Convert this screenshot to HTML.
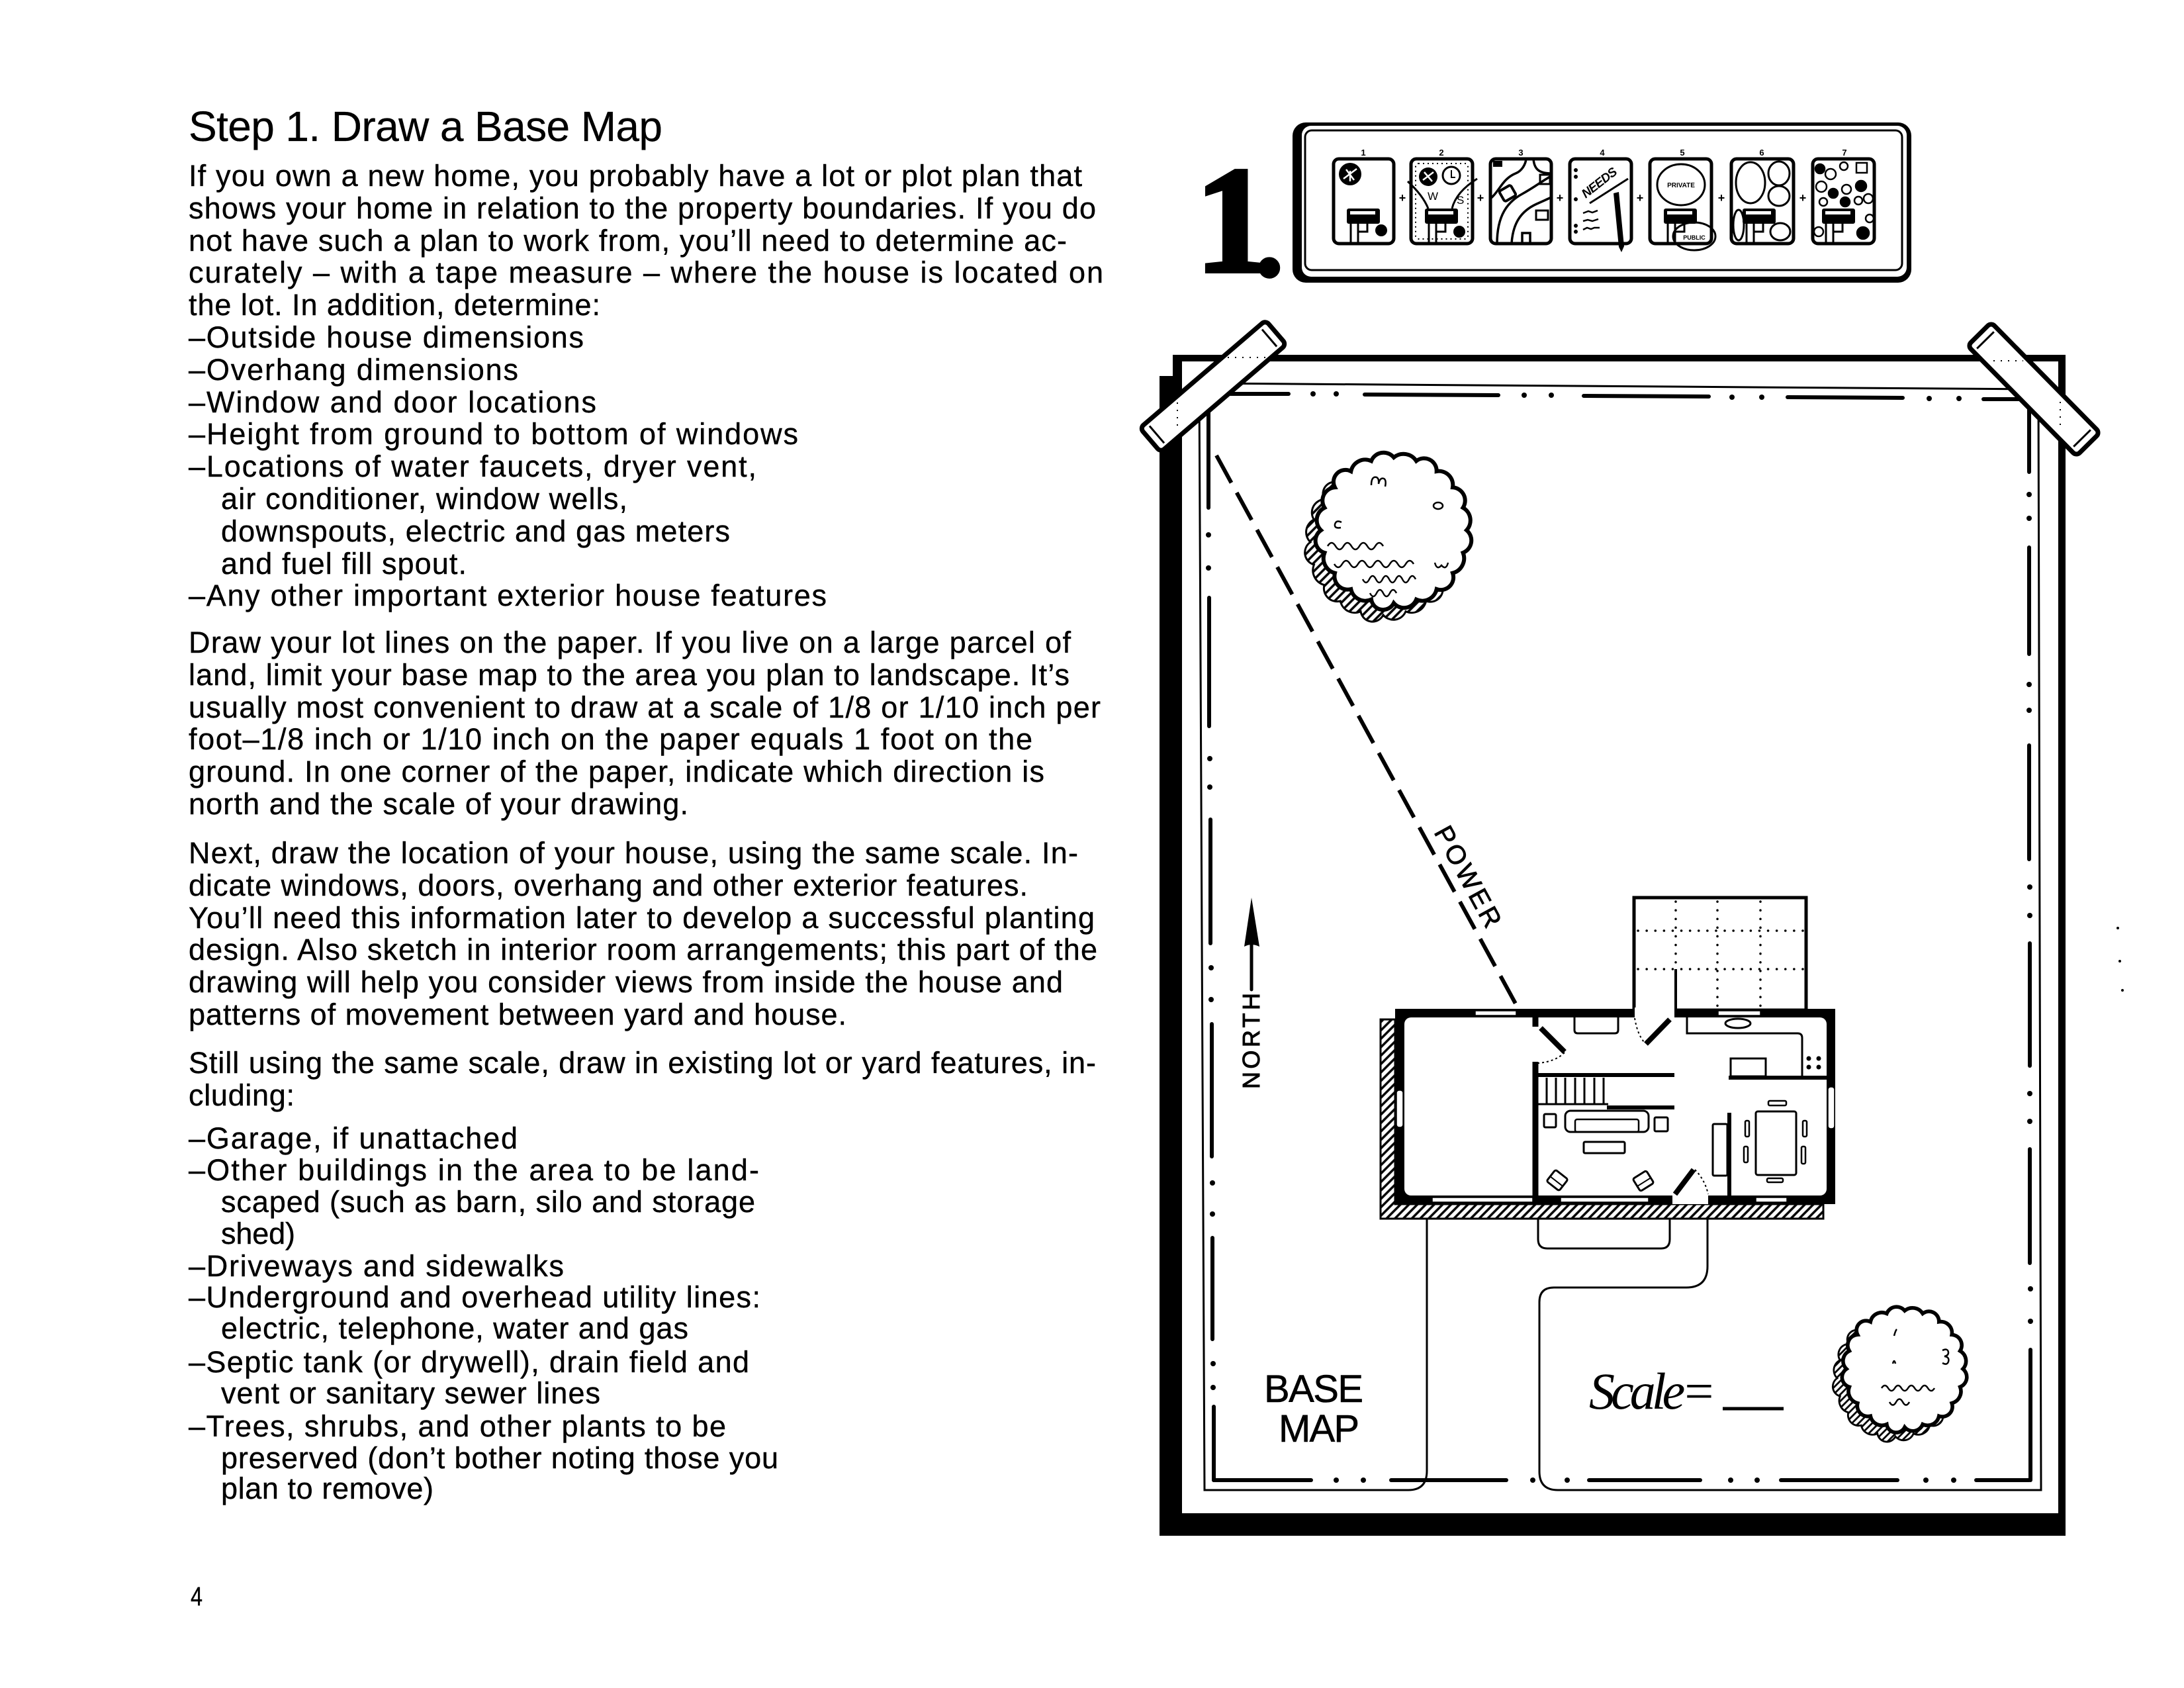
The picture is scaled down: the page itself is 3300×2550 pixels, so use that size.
<!DOCTYPE html>
<html><head><meta charset="utf-8">
<style>
html,body{margin:0;padding:0;background:#fff;}
svg{display:block;}
.t{font-family:"Liberation Sans",Arial,sans-serif;font-size:45px;fill:#000;stroke:#000;stroke-width:0.4;}
.s{stroke:#000;fill:none;}
</style></head>
<body>
<svg width="3300" height="2550" viewBox="0 0 3300 2550">
<defs>
<pattern id="hatch" width="9" height="9" patternUnits="userSpaceOnUse" patternTransform="rotate(45)">
<rect width="9" height="9" fill="#fff"/>
<line x1="2" y1="0" x2="2" y2="9" stroke="#000" stroke-width="3.5"/>
</pattern>
<path id="bump" d="M110 0 A20 20 0 0 1 104.6 34 A23 23 0 0 1 89 64.7 A19 19 0 0 1 64.7 89 A22 22 0 0 1 34 104.6 A20 20 0 0 1 0 110 A18 18 0 0 1 -34 104.6 A22 22 0 0 1 -64.7 89 A20 20 0 0 1 -89 64.7 A23 23 0 0 1 -104.6 34 A19 19 0 0 1 -110 0 A21 21 0 0 1 -104.6 -34 A20 20 0 0 1 -89 -64.7 A18 18 0 0 1 -64.7 -89 A22 22 0 0 1 -34 -104.6 A20 20 0 0 1 0 -110 A23 23 0 0 1 34 -104.6 A19 19 0 0 1 64.7 -89 A21 21 0 0 1 89 -64.7 A20 20 0 0 1 104.6 -34 A22 22 0 0 1 110 0 Z"/>
<g id="ph">
<rect x="2035" y="315" width="50" height="23" rx="3" fill="#000"/>
<rect x="2040" y="319" width="38" height="5" fill="#fff"/>
<path d="M2041 338 V368 M2052 338 V350 H2066 V338 M2052 350 V368" stroke="#000" stroke-width="3" fill="none"/>
</g>
</defs>
<rect width="3300" height="2550" fill="#fff"/>

<!-- ============ LEFT TEXT ============ -->
<g class="t">
<text x="285" y="213" font-size="64" stroke-width="0.3" textLength="716">Step 1. Draw a Base Map</text>
<text x="285" y="281" textLength="1350">If you own a new home, you probably have a lot or plot plan that</text>
<text x="285" y="330" textLength="1371">shows your home in relation to the property boundaries. If you do</text>
<text x="285" y="379" textLength="1327">not have such a plan to work from, you’ll need to determine ac-</text>
<text x="285" y="427" textLength="1382">curately – with a tape measure – where the house is located on</text>
<text x="285" y="476" textLength="622">the lot. In addition, determine:</text>
<text x="285" y="525" textLength="597">–Outside  house  dimensions</text>
<text x="285" y="574" textLength="498">–Overhang  dimensions</text>
<text x="285" y="623" textLength="616">–Window  and  door  locations</text>
<text x="285" y="671" textLength="921">–Height  from  ground  to  bottom  of  windows</text>
<text x="285" y="720" textLength="858">–Locations  of  water  faucets,  dryer  vent,</text>
<text x="334" y="769" textLength="614">air conditioner, window wells,</text>
<text x="334" y="818" textLength="769">downspouts, electric and gas meters</text>
<text x="334" y="867" textLength="371">and fuel fill spout.</text>
<text x="285" y="915" textLength="964">–Any  other  important  exterior  house  features</text>

<text x="285" y="986" textLength="1333">Draw your lot lines on the paper. If you live on a large parcel of</text>
<text x="285" y="1035" textLength="1331">land, limit your base map to the area you plan to landscape. It’s</text>
<text x="285" y="1084" textLength="1378">usually most convenient to draw at a scale of 1/8 or 1/10 inch per</text>
<text x="285" y="1132" textLength="1275">foot–1/8 inch or 1/10 inch on the paper equals 1 foot on the</text>
<text x="285" y="1181" textLength="1293">ground. In one corner of the paper, indicate which direction is</text>
<text x="285" y="1230" textLength="755">north and the scale of your drawing.</text>

<text x="285" y="1304" textLength="1344">Next, draw the location of your house, using the same scale. In-</text>
<text x="285" y="1353" textLength="1268">dicate windows, doors, overhang and other exterior features.</text>
<text x="285" y="1402" textLength="1369">You’ll need this information later to develop a successful planting</text>
<text x="285" y="1450" textLength="1373">design. Also sketch in interior room arrangements; this part of the</text>
<text x="285" y="1499" textLength="1321">drawing will help you consider views from inside the house and</text>
<text x="285" y="1548" textLength="994">patterns of movement between yard and house.</text>

<text x="285" y="1621" textLength="1371">Still using the same scale, draw in existing lot or yard features, in-</text>
<text x="285" y="1670" textLength="160">cluding:</text>
<text x="285" y="1735" textLength="497">–Garage,  if  unattached</text>
<text x="285" y="1783" textLength="862">–Other buildings in the area to be land-</text>
<text x="334" y="1831" textLength="807">scaped (such as barn, silo and storage</text>
<text x="334" y="1879" textLength="112">shed)</text>
<text x="285" y="1928" textLength="567">–Driveways  and  sidewalks</text>
<text x="285" y="1975" textLength="864">–Underground  and  overhead  utility  lines:</text>
<text x="334" y="2022" textLength="706">electric, telephone, water and gas</text>
<text x="285" y="2073" textLength="847">–Septic tank (or drywell), drain field and</text>
<text x="334" y="2120" textLength="573">vent or sanitary sewer lines</text>
<text x="285" y="2170" textLength="812">–Trees, shrubs, and other plants to be</text>
<text x="334" y="2218" textLength="842">preserved (don’t bother noting those you</text>
<text x="334" y="2264" textLength="321">plan to remove)</text>

<text x="288" y="2425" font-size="40" textLength="18" lengthAdjust="spacingAndGlyphs">4</text>
</g>

<!-- ============ BIG "1." ============ -->
<text x="1863" y="410" text-anchor="middle" font-family="Liberation Serif" font-weight="bold" font-size="230" fill="#000" stroke="#000" stroke-width="6">1</text>
<text x="1918" y="418" text-anchor="middle" font-family="Liberation Serif" font-weight="bold" font-size="200" fill="#000">.</text>

<!-- ============ FILMSTRIP ============ -->
<rect x="1953" y="185" width="935" height="242" rx="20" fill="#000"/>
<rect x="1967" y="190" width="914" height="228" rx="14" fill="#fff"/>
<rect x="1972" y="197" width="902" height="211" rx="10" fill="none" stroke="#000" stroke-width="3"/>

<g font-family="Liberation Sans" font-weight="bold" font-size="13" text-anchor="middle" fill="#000">
<text x="2060" y="235">1</text><text x="2178" y="235">2</text><text x="2298" y="235">3</text><text x="2421" y="235">4</text><text x="2542" y="235">5</text><text x="2662" y="235">6</text><text x="2787" y="235">7</text>
<text x="2119" y="305" font-size="18">+</text><text x="2237" y="305" font-size="18">+</text><text x="2357" y="305" font-size="18">+</text><text x="2478" y="305" font-size="18">+</text><text x="2601" y="305" font-size="18">+</text><text x="2724" y="305" font-size="18">+</text>
</g>

<g fill="#fff" stroke="#000" stroke-width="5">
<rect x="2015" y="240" width="91" height="128" rx="8"/>
<rect x="2132" y="240" width="93" height="128" rx="8"/>
<rect x="2252" y="240" width="92" height="128" rx="8"/>
<rect x="2372" y="240" width="93" height="128" rx="8"/>
<rect x="2493" y="240" width="93" height="128" rx="8"/>
<rect x="2616" y="240" width="94" height="128" rx="8"/>
<rect x="2739" y="240" width="93" height="128" rx="8"/>
</g>
<!-- P1 -->
<circle cx="2040" cy="263" r="17" fill="#000"/>
<path d="M2030 270 L2050 255 M2034 256 L2046 272 M2040 258 V274" stroke="#fff" stroke-width="2.5"/>
<use href="#ph"/>
<circle cx="2087" cy="348" r="9" fill="#000"/>
<!-- P2 -->
<rect x="2139" y="247" width="79" height="114" rx="4" fill="none" stroke="#000" stroke-width="2" stroke-dasharray="2 5"/>
<circle cx="2158" cy="267" r="14" fill="#000"/>
<path d="M2150 272 L2166 260 M2152 260 L2164 274" stroke="#fff" stroke-width="2.5"/>
<circle cx="2193" cy="265" r="13" fill="#fff" stroke="#000" stroke-width="3"/>
<path d="M2193 257 V268 H2199" stroke="#000" stroke-width="2" fill="none"/>
<path d="M2127 274 Q2150 295 2158 315 M2232 270 Q2200 290 2194 315" class="s" stroke-width="3"/>
<text x="2157" y="302" font-family="Liberation Sans" font-size="17" fill="#000">W</text>
<text x="2201" y="308" font-family="Liberation Sans" font-size="17" fill="#000">S</text>
<use href="#ph" x="118"/>
<circle cx="2205" cy="350" r="9" fill="#000"/>
<!-- P3 -->
<g class="s" stroke-width="3.5">
<path d="M2262 368 C2262 325 2278 305 2300 293 C2320 282 2332 272 2344 266"/>
<path d="M2284 368 C2286 335 2300 318 2322 308 C2333 303 2340 300 2344 298"/>
<path d="M2252 300 C2265 290 2270 270 2290 262 C2300 258 2305 248 2306 240"/>
<path d="M2317 240 C2318 255 2325 262 2344 262"/>
<path d="M2300 368 V352 H2312 V368"/>
<rect x="2327" y="264" width="15" height="14" stroke-width="3"/>
<rect x="2321" y="318" width="18" height="14" stroke-width="3"/>
<rect x="2268" y="283" width="20" height="18" rx="3" transform="rotate(-30 2278 292)" fill="#fff" stroke-width="4"/>
</g>
<rect x="2256" y="243" width="14" height="9" fill="#000"/>
<!-- P4 -->
<g fill="#000"><circle cx="2381" cy="257" r="3"/><circle cx="2381" cy="267" r="3"/><circle cx="2381" cy="301" r="3"/><circle cx="2381" cy="341" r="3"/><circle cx="2381" cy="350" r="3"/></g>
<text transform="translate(2396,300) rotate(-38)" font-family="Liberation Sans" font-style="italic" font-weight="bold" font-size="19" textLength="62" fill="#000">NEEDS</text>
<line x1="2402" y1="307" x2="2460" y2="270" stroke="#000" stroke-width="3"/>
<path d="M2438 292 L2446 290 L2454 372 L2450 381 L2446 373 Z" fill="#000"/>
<path d="M2392 322 l8 -3 l6 2 l8 -3 M2392 334 l7 -2 l7 2 l9 -3 M2392 347 l6 -3 l6 2 l5 -2 l8 0" class="s" stroke-width="2.5"/>
<!-- P5 -->
<ellipse cx="2540" cy="279" rx="36" ry="31" class="s" stroke-width="3"/>
<text x="2540" y="283" text-anchor="middle" font-family="Liberation Sans" font-weight="bold" font-size="10" fill="#000">PRIVATE</text>
<use href="#ph" x="479"/>
<ellipse cx="2560" cy="357" rx="32" ry="21" class="s" stroke-width="3"/>
<text x="2560" y="362" text-anchor="middle" font-family="Liberation Sans" font-weight="bold" font-size="9" fill="#000">PUBLIC</text>
<!-- P6 -->
<g class="s" stroke-width="3">
<ellipse cx="2645" cy="276" rx="22" ry="31"/>
<ellipse cx="2688" cy="262" rx="16" ry="18"/>
<ellipse cx="2688" cy="296" rx="16" ry="15"/>
<ellipse cx="2627" cy="340" rx="8" ry="23"/>
<ellipse cx="2690" cy="350" rx="15" ry="13"/>
</g>
<use href="#ph" x="598"/>
<!-- P7 -->
<use href="#ph" x="718"/>
<g stroke="#000" stroke-width="2.5">
<circle cx="2750" cy="255" r="7" fill="#000"/>
<circle cx="2766" cy="263" r="8" fill="#fff"/>
<circle cx="2786" cy="251" r="6" fill="#fff"/>
<rect x="2805" y="246" width="16" height="15" fill="#fff"/>
<circle cx="2752" cy="282" r="8" fill="#fff"/>
<circle cx="2770" cy="292" r="7" fill="#000"/>
<circle cx="2790" cy="286" r="7" fill="#fff"/>
<circle cx="2812" cy="281" r="8" fill="#000"/>
<circle cx="2823" cy="300" r="7" fill="#fff"/>
<circle cx="2755" cy="305" r="6" fill="#fff"/>
<circle cx="2788" cy="305" r="7" fill="#000"/>
<circle cx="2808" cy="303" r="6" fill="#fff"/>
<circle cx="2825" cy="330" r="6" fill="#fff"/>
<circle cx="2748" cy="350" r="7" fill="#fff"/>
<circle cx="2815" cy="352" r="9" fill="#000"/>
</g>

<!-- ============ BOARD ============ -->
<rect x="1772" y="536" width="1349" height="10" fill="#000"/>
<rect x="1772" y="536" width="14" height="40" fill="#000"/>
<rect x="1752" y="568" width="34" height="1752" fill="#000"/>
<rect x="3110" y="536" width="11" height="1784" fill="#000"/>
<rect x="1752" y="2286" width="1369" height="34" fill="#000"/>

<!-- inner thin border + paths -->
<path d="M2156 1841 V2222 Q2156 2251 2128 2251 H1820 L1812 579 L3080 588 L3084 2251 H2354 Q2326 2251 2326 2223 V1967 Q2326 1945 2348 1945 H2548 Q2580 1945 2580 1913 V1841" class="s" stroke-width="3"/>
<path d="M2324 1841 V1872 Q2324 1886 2338 1886 H2510 Q2523 1886 2523 1872 V1841" class="s" stroke-width="3"/>

<!-- dashed lot lines -->
<g stroke="#000" stroke-width="6" stroke-linecap="round" fill="none">
<line x1="1859" y1="595" x2="1947" y2="595"/>
<line x1="2062" y1="596" x2="2264" y2="597"/>
<line x1="2393" y1="598" x2="2582" y2="599"/>
<line x1="2701" y1="600" x2="2875" y2="601"/>
<line x1="2997" y1="603" x2="3057" y2="603"/>
<line x1="3066" y1="603" x2="3066" y2="713"/>
<line x1="3066" y1="827" x2="3066" y2="988"/>
<line x1="3066" y1="1126" x2="3066" y2="1298"/>
<line x1="3067" y1="1425" x2="3067" y2="1610"/>
<line x1="3067" y1="1736" x2="3067" y2="1908"/>
<line x1="3068" y1="2039" x2="3068" y2="2236"/>
<line x1="1834" y1="2236" x2="1981" y2="2236"/>
<line x1="2102" y1="2236" x2="2276" y2="2236"/>
<line x1="2401" y1="2236" x2="2569" y2="2236"/>
<line x1="2691" y1="2236" x2="2867" y2="2236"/>
<line x1="2986" y1="2236" x2="3066" y2="2236"/>
<line x1="1826" y1="621" x2="1826" y2="767"/>
<line x1="1827" y1="903" x2="1827" y2="1097"/>
<line x1="1829" y1="1238" x2="1829" y2="1425"/>
<line x1="1831" y1="1547" x2="1831" y2="1747"/>
<line x1="1832" y1="1870" x2="1832" y2="2023"/>
<line x1="1834" y1="2125" x2="1834" y2="2236"/>
</g>
<g fill="#000">
<circle cx="1984" cy="595" r="4"/><circle cx="2019" cy="595" r="4"/>
<circle cx="2303" cy="597" r="4"/><circle cx="2344" cy="597" r="4"/>
<circle cx="2617" cy="600" r="4"/><circle cx="2662" cy="600" r="4"/>
<circle cx="2915" cy="602" r="4"/><circle cx="2960" cy="602" r="4"/>
<circle cx="3066" cy="747" r="4"/><circle cx="3066" cy="783" r="4"/>
<circle cx="3066" cy="1034" r="4"/><circle cx="3066" cy="1073" r="4"/>
<circle cx="3067" cy="1340" r="4"/><circle cx="3067" cy="1383" r="4"/>
<circle cx="3067" cy="1652" r="4"/><circle cx="3067" cy="1694" r="4"/>
<circle cx="3068" cy="1947" r="4"/><circle cx="3068" cy="1996" r="4"/>
<circle cx="2019" cy="2236" r="4"/><circle cx="2060" cy="2236" r="4"/>
<circle cx="2316" cy="2236" r="4"/><circle cx="2368" cy="2236" r="4"/>
<circle cx="2615" cy="2236" r="4"/><circle cx="2655" cy="2236" r="4"/>
<circle cx="2910" cy="2236" r="4"/><circle cx="2952" cy="2236" r="4"/>
<circle cx="1826" cy="808" r="4"/><circle cx="1826" cy="858" r="4"/>
<circle cx="1828" cy="1146" r="4"/><circle cx="1828" cy="1189" r="4"/>
<circle cx="1830" cy="1462" r="4"/><circle cx="1830" cy="1510" r="4"/>
<circle cx="1832" cy="1787" r="4"/><circle cx="1832" cy="1834" r="4"/>
<circle cx="1833" cy="2060" r="4"/><circle cx="1833" cy="2096" r="4"/>
<circle cx="3200" cy="1402" r="2"/><circle cx="3203" cy="1452" r="2"/><circle cx="3207" cy="1496" r="2"/>
</g>

<!-- tapes -->
<g transform="translate(1833,583.5) rotate(-40.6)">
<rect x="-125" y="-24" width="250" height="48" rx="7" fill="#fff" stroke="#000" stroke-width="7"/>
<line x1="-112" y1="-17" x2="-112" y2="17" stroke="#000" stroke-width="3"/>
<line x1="112" y1="-17" x2="112" y2="17" stroke="#000" stroke-width="3"/>
</g>
<line x1="1855" y1="540" x2="1915" y2="540" stroke="#000" stroke-width="2" stroke-dasharray="2 9"/>
<line x1="1779" y1="608" x2="1779" y2="650" stroke="#000" stroke-width="2" stroke-dasharray="2 9"/>
<g transform="translate(3073,588) rotate(45.4)">
<rect x="-117" y="-25" width="234" height="50" rx="7" fill="#fff" stroke="#000" stroke-width="7"/>
<line x1="-104" y1="-18" x2="-104" y2="18" stroke="#000" stroke-width="3"/>
<line x1="104" y1="-18" x2="104" y2="18" stroke="#000" stroke-width="3"/>
</g>
<line x1="3012" y1="545" x2="3057" y2="545" stroke="#000" stroke-width="2" stroke-dasharray="2 9"/>
<line x1="3113" y1="607" x2="3113" y2="647" stroke="#000" stroke-width="2" stroke-dasharray="2 9"/>

<!-- power line -->
<line x1="1838" y1="688" x2="2291" y2="1518" stroke="#000" stroke-width="6" stroke-dasharray="47 17"/>
<text transform="translate(2166,1257) rotate(61.4)" font-family="Liberation Sans" font-size="40" textLength="168" fill="#000" stroke="#000" stroke-width="0.8">POWER</text>

<!-- tree 1 -->
<use href="#bump" transform="translate(2090,819)" fill="url(#hatch)" stroke="#000" stroke-width="3"/>
<use href="#bump" transform="translate(2106,801)" fill="#fff" stroke="#000" stroke-width="6"/>
<g class="s" stroke-width="2.5">
<path d="M2072 733 q0 -14 8 -12 q4 2 3 10 q2 -10 8 -8 q4 2 2 12"/>
<ellipse cx="2173" cy="764" rx="7" ry="5"/>
<path d="M2027 789 q-8 -4 -10 3 q-1 7 9 5"/>
<path d="M2006 825 q6 -10 12 0 t12 0 t12 0 t12 0 t12 0 t12 0 t12 0"/>
<path d="M2016 852 q6 10 12 0 t12 0 t12 0 t12 0 t12 0 t12 0 t12 0 t12 0 t12 0 t12 0"/>
<path d="M2059 875 q5 10 10 0 t10 0 t10 0 t10 0 t10 0 t10 0 t10 0 t10 0"/>
<path d="M2070 896 q5 10 10 0 t10 0 t10 0 t10 0"/>
<path d="M2168 850 q3 12 10 4 q7 8 10 -4"/>
</g>

<!-- tree 2 -->
<use href="#bump" transform="translate(2864,2082) scale(0.8)" fill="url(#hatch)" stroke="#000" stroke-width="3.5"/>
<use href="#bump" transform="translate(2878,2068) scale(0.8)" fill="#fff" stroke="#000" stroke-width="7"/>
<g class="s" stroke-width="2.5">
<path d="M2862 2018 q2 -8 4 -10"/>
<path d="M2935 2040 q8 -4 9 3 q0 5 -6 6 q8 1 6 8 q-2 6 -9 2"/>
<path d="M2860 2060 q2 -8 4 0"/>
<path d="M2843 2097 q5 -8 10 0 t10 0 t10 0 t10 0 t10 0 t10 0 t10 0 t10 0"/>
<path d="M2855 2118 q5 9 10 0 t10 0 t10 0"/>
</g>

<!-- house hatch shadow -->
<path d="M2086 1540 H2108 V1819 H2755 V1841 H2086 Z" fill="url(#hatch)" stroke="#000" stroke-width="3"/>
<!-- patio -->
<rect x="2469" y="1356" width="260" height="170" fill="#fff" stroke="#000" stroke-width="5"/>
<g stroke="#000" stroke-width="3.5" stroke-linecap="round" stroke-dasharray="0.1 13" fill="none">
<line x1="2532" y1="1362" x2="2532" y2="1462"/>
<line x1="2595" y1="1362" x2="2595" y2="1520"/>
<line x1="2660" y1="1362" x2="2660" y2="1520"/>
<line x1="2475" y1="1406" x2="2724" y2="1406"/>
<line x1="2475" y1="1464" x2="2724" y2="1464"/>
</g>
<line x1="2532" y1="1464" x2="2532" y2="1524" stroke="#000" stroke-width="4"/>
<!-- walls -->
<rect x="2108" y="1524" width="665" height="295" fill="#000"/>
<rect x="2122" y="1537" width="638" height="269" rx="10" fill="#fff"/>
<g fill="#fff" stroke="#000" stroke-width="1.5">
<rect x="2229" y="1527" width="62" height="7"/>
<rect x="2596" y="1527" width="64" height="7"/>
<rect x="2110" y="1647" width="10" height="56" rx="4"/>
<rect x="2762" y="1642" width="10" height="63" rx="4"/>
<rect x="2164" y="1809" width="152" height="7"/>
<rect x="2358" y="1809" width="133" height="7"/>
<rect x="2653" y="1809" width="47" height="7"/>
</g>
<rect x="2470" y="1522" width="60" height="16" fill="#fff"/>
<rect x="2527" y="1805" width="54" height="14" fill="#fff"/>
<!-- interior -->
<g class="s">
<line x1="2320" y1="1604" x2="2320" y2="1808" stroke-width="9"/>
<line x1="2320" y1="1537" x2="2320" y2="1551" stroke-width="9"/>
<line x1="2328" y1="1553" x2="2364" y2="1589" stroke-width="8"/>
<path d="M2364 1590 Q2350 1604 2324 1606" stroke-width="2" stroke-dasharray="3 4"/>
<line x1="2487" y1="1577" x2="2523" y2="1540" stroke-width="8"/>
<path d="M2470 1538 Q2474 1562 2484 1574" stroke-width="2" stroke-dasharray="3 4"/>
<path d="M2379 1537 V1556 Q2379 1561 2384 1561 H2440 Q2445 1561 2445 1556 V1537" stroke-width="3"/>
<line x1="2324" y1="1624" x2="2530" y2="1624" stroke-width="6"/>
<line x1="2428" y1="1673" x2="2530" y2="1673" stroke-width="6"/>
<line x1="2324" y1="1668" x2="2430" y2="1668" stroke-width="3"/>
<path d="M2337 1628 V1668 M2351 1628 V1668 M2365 1628 V1668 M2380 1628 V1668 M2394 1628 V1668 M2409 1628 V1668 M2423 1628 V1668" stroke-width="3"/>
<rect x="2365" y="1678" width="126" height="32" rx="8" stroke-width="3"/>
<rect x="2380" y="1691" width="96" height="19" rx="3" stroke-width="2.5"/>
<rect x="2333" y="1683" width="18" height="20" rx="2" stroke-width="3"/>
<rect x="2500" y="1688" width="20" height="21" rx="2" stroke-width="3"/>
<rect x="2393" y="1725" width="62" height="17" rx="2" stroke-width="3"/>
<g transform="translate(2353,1783) rotate(38)"><rect x="-12" y="-11" width="24" height="22" rx="3" stroke-width="3"/><line x1="-12" y1="2" x2="12" y2="2" stroke-width="2"/></g>
<g transform="translate(2483,1784) rotate(-32)"><rect x="-12" y="-11" width="24" height="22" rx="3" stroke-width="3"/><line x1="-12" y1="2" x2="12" y2="2" stroke-width="2"/></g>
<line x1="2531" y1="1804" x2="2559" y2="1767" stroke-width="8"/>
<path d="M2561 1767 Q2576 1782 2581 1804" stroke-width="2" stroke-dasharray="3 4"/>
<path d="M2549 1537 V1561 H2716 Q2723 1561 2723 1568 V1628" stroke-width="3"/>
<line x1="2612" y1="1628" x2="2760" y2="1628" stroke-width="6"/>
<ellipse cx="2626" cy="1546" rx="19" ry="7" stroke-width="3"/>
<rect x="2615" y="1599" width="53" height="27" stroke-width="3"/>
<line x1="2613" y1="1681" x2="2613" y2="1806" stroke-width="6"/>
<rect x="2588" y="1698" width="22" height="78" rx="2" stroke-width="3"/>
<rect x="2653" y="1679" width="61" height="96" rx="3" stroke-width="3"/>
<rect x="2672" y="1663" width="27" height="7" rx="2" stroke-width="2.5"/>
<rect x="2670" y="1780" width="24" height="6" rx="2" stroke-width="2.5"/>
<rect x="2637" y="1693" width="6" height="24" rx="2" stroke-width="2.5"/>
<rect x="2635" y="1732" width="6" height="24" rx="2" stroke-width="2.5"/>
<rect x="2724" y="1693" width="6" height="24" rx="2" stroke-width="2.5"/>
<rect x="2722" y="1732" width="6" height="26" rx="2" stroke-width="2.5"/>
</g>
<g fill="#000"><circle cx="2733" cy="1599" r="3.5"/><circle cx="2748" cy="1599" r="3.5"/><circle cx="2733" cy="1612" r="3.5"/><circle cx="2748" cy="1612" r="3.5"/></g>

<!-- north arrow -->
<line x1="1891" y1="1425" x2="1891" y2="1495" stroke="#000" stroke-width="5" stroke-linecap="round"/>
<path d="M1891 1356 L1903 1430 Q1891 1424 1880 1430 Z" fill="#000"/>
<text transform="translate(1903,1645) rotate(-90)" font-family="Liberation Sans" font-size="36" textLength="145" fill="#000" stroke="#000" stroke-width="1">NORTH</text>

<!-- labels -->
<text x="1910" y="2118" font-family="Liberation Sans" font-size="58" textLength="150" fill="#000" stroke="#000" stroke-width="0.6">BASE</text>
<text x="1932" y="2178" font-family="Liberation Sans" font-size="58" textLength="122" fill="#000" stroke="#000" stroke-width="0.6">MAP</text>
<text x="2401" y="2128" font-family="Liberation Serif" font-style="italic" font-size="78" textLength="192" fill="#000">Scale=</text>
<line x1="2603" y1="2128" x2="2695" y2="2128" stroke="#000" stroke-width="5"/>
</svg>
</body></html>
